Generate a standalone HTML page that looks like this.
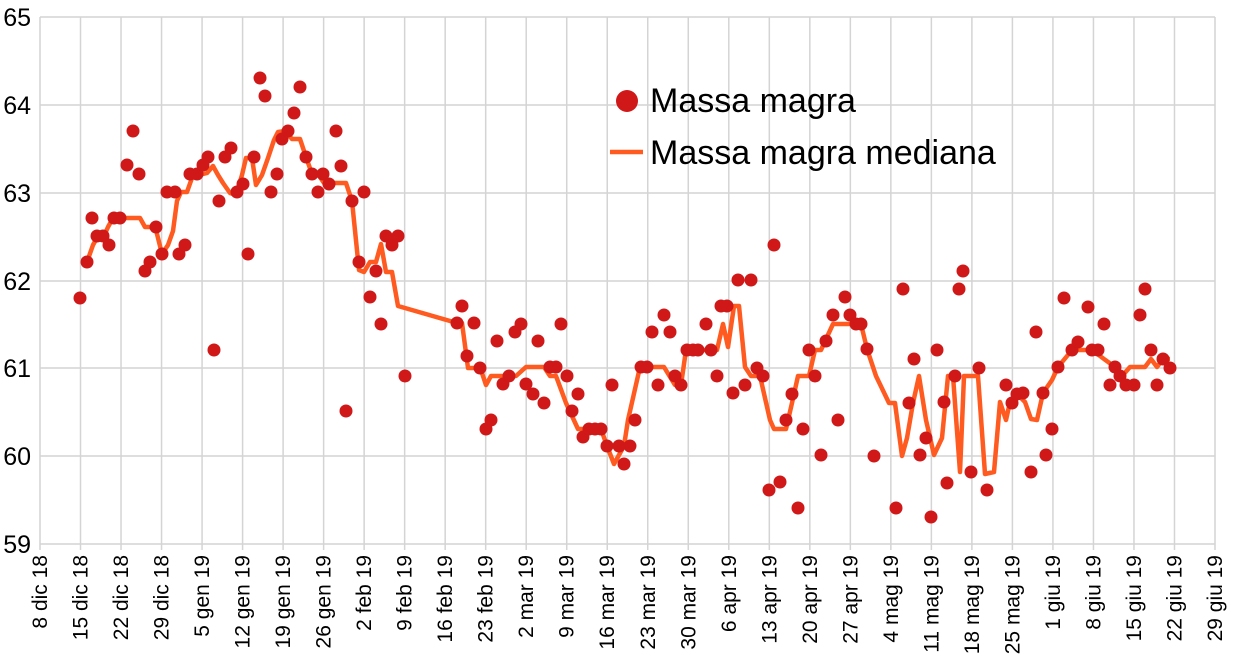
<!DOCTYPE html>
<html><head><meta charset="utf-8"><style>body{margin:0;background:#fff}svg{display:block;font-family:"Liberation Sans",sans-serif}</style></head><body>
<svg width="1235" height="662" viewBox="0 0 1235 662">
<g stroke="#d4d4d4" stroke-width="1.5" fill="none">
<path d="M40 17H1215M40 105H1215M40 193H1215M40 281H1215M40 368H1215M40 456H1215M40 544H1215"/>
</g>
<g id="grid"></g>
<g font-size="25" fill="#000" text-anchor="end">
<text x="31" y="26">65</text><text x="31" y="114">64</text><text x="31" y="202">63</text><text x="31" y="290">62</text><text x="31" y="377">61</text><text x="31" y="465">60</text><text x="31" y="553">59</text>
</g>
<g id="xl" font-size="21" fill="#000" text-anchor="end"></g>
<polyline fill="none" stroke="#ff5a1f" stroke-width="4.5" stroke-linejoin="round" points="87,262 93,245 98,236 104,236 108,227 113,218 120,218 127,218 140,218 145,227 150,227 156,230 162,254 168,245 173,231 177,201 181,192 187,192 193,175 199,175 207,173 213,166 218,175 223,183 230,193 236,195 242,175 246,158 252,158 256,185 262,175 268,158 274,140 278,132 285,131 292,139 300,139 306,157 312,174 318,174 324,183 346,183 352,201 359,270 364,272 370,262 376,262 381,244 386,272 392,272 398,306 457,323 462,323 468,368 474,368 480,367 486,385 491,376 509,376 516,376 526,367 544,367 550,376 556,376 566,403 578,429 601,429 607,446 614,464 624,446 628,420 640,367 664,367 675,385 681,385 686,350 693,350 698,350 717,350 723,324 728,347 734,306 739,306 745,367 751,376 760,376 770,420 774,429 786,429 792,403 798,376 809,376 815,350 821,350 833,324 845,324 861,324 867,349 876,376 889,403 895,403 902,456 907,438 913,403 919,376 926,420 934,455 942,438 948,376 953,376 960,472 964,376 978,376 985,474 994,472 1000,402 1006,420 1010,402 1016,393 1025,402 1031,419 1037,420 1043,393 1052,380 1058,367 1072,350 1092,350 1104,359 1115,367 1122,376 1130,367 1138,367 1145,367 1151,359 1157,367 1163,359 1170,359"/>
<g id="dots" fill="#d01818"></g>
<circle cx="627" cy="101" r="11" fill="#d01818"/>
<text x="650" y="112" font-size="34">Massa magra</text>
<line x1="610" y1="152" x2="643" y2="152" stroke="#ff5a1f" stroke-width="4.5"/>
<text x="650" y="164" font-size="34">Massa magra mediana</text>
</svg>
<script>
var ns="http://www.w3.org/2000/svg";
var labs=["8 dic 18","15 dic 18","22 dic 18","29 dic 18","5 gen 19","12 gen 19","19 gen 19","26 gen 19","2 feb 19","9 feb 19","16 feb 19","23 feb 19","2 mar 19","9 mar 19","16 mar 19","23 mar 19","30 mar 19","6 apr 19","13 apr 19","20 apr 19","27 apr 19","4 mag 19","11 mag 19","18 mag 19","25 mag 19","1 giu 19","8 giu 19","15 giu 19","22 giu 19","29 giu 19"];
var g=document.getElementById("grid"),xl=document.getElementById("xl");
for(var i=0;i<labs.length;i++){var x=40+i*1175/29;
var l=document.createElementNS(ns,"line");l.setAttribute("x1",x);l.setAttribute("x2",x);l.setAttribute("y1",17);l.setAttribute("y2",550);l.setAttribute("stroke","#d4d4d4");l.setAttribute("stroke-width","1.5");g.appendChild(l);
var t=document.createElementNS(ns,"text");t.setAttribute("transform","translate("+(x+7)+",555) rotate(-90)");t.textContent=labs[i];xl.appendChild(t);}
var d=[80,298,87,262,92,218,97,236,103,236,109,245,114,218,120,218,127,165,133,131,139,174,145,271,150,262,156,227,162,254,167,192,175,192,179,254,185,245,190,174,197,174,203,165,208,157,214,350,219,201,225,157,231,148,237,192,243,184,248,254,254,157,260,78,265,96,271,192,277,174,282,139,288,131,294,113,300,87,306,157,312,174,318,192,323,174,329,184,336,131,341,166,346,411,352,201,359,262,364,192,370,297,376,271,381,324,386,236,392,245,398,236,405,376,457,323,462,306,467,356,474,323,480,368,486,429,491,420,497,341,503,384,509,376,515,332,521,324,526,384,533,394,538,341,544,403,550,367,556,367,561,324,567,376,572,411,578,394,583,437,589,429,595,429,601,429,607,446,612,385,619,446,624,464,630,446,635,420,641,367,647,367,652,332,658,385,664,315,670,332,675,376,681,385,687,350,693,350,698,350,706,324,711,350,717,376,721,306,727,306,733,393,738,280,745,385,751,280,757,368,763,376,769,490,774,245,780,482,786,420,792,394,798,508,803,429,809,350,815,376,821,455,826,341,833,315,838,420,845,297,850,315,856,324,861,324,867,349,874,456,896,508,903,289,909,403,914,359,920,455,926,438,931,517,937,350,944,402,947,483,955,376,959,289,963,271,971,472,979,368,987,490,1006,385,1012,403,1017,394,1023,393,1031,472,1036,332,1043,393,1046,455,1052,429,1058,367,1064,298,1072,350,1078,342,1088,307,1092,350,1098,350,1104,324,1110,385,1115,367,1120,376,1126,385,1134,385,1140,315,1145,289,1151,350,1157,385,1163,359,1170,368];
var dg=document.getElementById("dots");
for(var j=0;j<d.length;j+=2){var c=document.createElementNS(ns,"circle");c.setAttribute("cx",d[j]);c.setAttribute("cy",d[j+1]);c.setAttribute("r",6.5);dg.appendChild(c);}
</script>
</body></html>
